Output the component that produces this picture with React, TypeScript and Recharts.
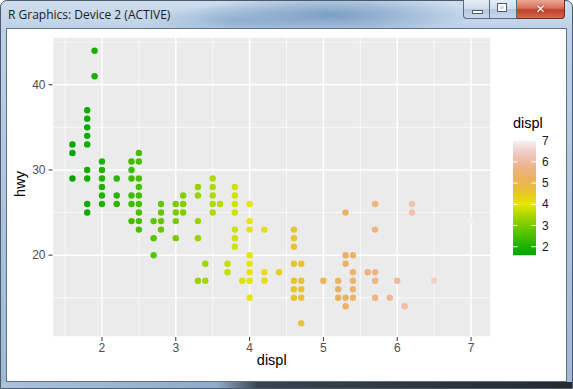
import React from 'react'
import {
  ScatterChart,
  Scatter,
  XAxis,
  YAxis,
  CartesianGrid,
  ReferenceLine
} from 'recharts'

// mpg: displ vs hwy (distinct points)
const displ = [
  1.6, 1.6, 1.6,
  1.8, 1.8, 1.8, 1.8, 1.8, 1.8, 1.8, 1.8, 1.8,
  1.9, 1.9,
  2.0, 2.0, 2.0, 2.0, 2.0, 2.0,
  2.2, 2.2, 2.2,
  2.4, 2.4, 2.4, 2.4, 2.4, 2.4,
  2.5, 2.5, 2.5, 2.5, 2.5, 2.5, 2.5, 2.5, 2.5,
  2.7, 2.7, 2.7,
  2.8, 2.8, 2.8, 2.8,
  3.0, 3.0, 3.0, 3.0,
  3.1, 3.1, 3.1,
  3.3, 3.3, 3.3, 3.3, 3.3,
  3.4, 3.4,
  3.5, 3.5, 3.5, 3.5, 3.5,
  3.6,
  3.7, 3.7,
  3.8, 3.8, 3.8, 3.8, 3.8, 3.8, 3.8,
  3.9,
  4.0, 4.0, 4.0, 4.0, 4.0, 4.0, 4.0, 4.0,
  4.2, 4.2, 4.2,
  4.4,
  4.6, 4.6, 4.6, 4.6, 4.6, 4.6, 4.6,
  4.7, 4.7, 4.7, 4.7, 4.7,
  5.0,
  5.2, 5.2, 5.2,
  5.3, 5.3, 5.3, 5.3, 5.3,
  5.4, 5.4, 5.4, 5.4, 5.4,
  5.6,
  5.7, 5.7, 5.7, 5.7, 5.7,
  5.9,
  6.0,
  6.1,
  6.2, 6.2,
  6.5,
  7.0
]
const hwy = [
  33, 32, 29,
  37, 36, 35, 34, 33, 30, 29, 26, 25,
  44, 41,
  31, 30, 29, 28, 27, 26,
  29, 27, 26,
  31, 30, 29, 27, 26, 24,
  32, 31, 29, 28, 27, 26, 25, 24, 23,
  24, 22, 20,
  26, 25, 24, 23,
  26, 25, 24, 22,
  27, 26, 25,
  28, 27, 24, 22, 17,
  19, 17,
  29, 28, 27, 26, 25,
  26,
  19, 18,
  28, 27, 26, 25, 23, 22, 21,
  17,
  26, 24, 23, 20, 19, 18, 17, 15,
  23, 18, 17,
  18,
  23, 22, 21, 19, 17, 16, 15,
  19, 17, 16, 15, 12,
  17,
  17, 16, 15,
  25, 20, 19, 15, 14,
  20, 18, 17, 16, 15,
  18,
  26, 23, 18, 17, 15,
  15,
  17,
  14,
  26, 25,
  17,
  24
]

const xTicks = [2, 3, 4, 5, 6, 7]
const yTicks = [20, 30, 40]
const xMinor = [1.5, 2.5, 3.5, 4.5, 5.5, 6.5]
const yMinor = [15, 25, 35, 45]
const legendTicks = [2, 3, 4, 5, 6, 7]

// terrain.colors(10)
const palette = [
  '#00A600', '#2DB600', '#63C600', '#A0D600', '#E6E600',
  '#E8C32E', '#EBB25E', '#EDB48E', '#F0C9C0', '#F2F2F2'
]

const displMin = 1.6
const displMax = 7.0

const points = displ.map((d, i) => ({ displ: d, hwy: hwy[i] }))

const hexToRgb = (hex: string) => [
  parseInt(hex.slice(1, 3), 16),
  parseInt(hex.slice(3, 5), 16),
  parseInt(hex.slice(5, 7), 16)
]

const colorFor = (v: number) => {
  const t = Math.min(1, Math.max(0, (v - displMin) / (displMax - displMin))) * (palette.length - 1)
  const i = Math.min(palette.length - 2, Math.floor(t))
  const f = t - i
  const a = hexToRgb(palette[i])
  const b = hexToRgb(palette[i + 1])
  const c = a.map((x, k) => Math.round(x + (b[k] - x) * f))
  return `rgb(${c[0]},${c[1]},${c[2]})`
}

const renderDot = (props: any) => {
  const { cx, cy, payload } = props
  if (cx == null || cy == null) return <g />
  return <circle cx={cx} cy={cy} r={3.2} fill={colorFor(payload.displ)} />
}

const FONT = '"Liberation Sans", Arial, sans-serif'

// colour bar geometry
const barX = 513
const barW = 23
const barTop = 140.7
const barBottom = 255.2
const legendY = (v: number) =>
  barBottom - ((v - displMin) / (displMax - displMin)) * (barBottom - barTop)

const WindowFrame = () => (
  <>
    <div
      style={{
        position: 'absolute',
        left: 0,
        top: 0,
        width: 573,
        height: 389,
        boxSizing: 'border-box',
        border: '1px solid #4a5b6e',
        borderRadius: '7px 7px 0 0',
        background:
          'radial-gradient(ellipse 140px 22px at 330px 14px, rgba(96,138,182,0.75), rgba(96,138,182,0) 100%),' +
          'radial-gradient(ellipse 90px 16px at 230px 20px, rgba(120,158,196,0.5), rgba(120,158,196,0) 100%),' +
          'linear-gradient(180deg, #cfdeee 0px, #bcd1e7 30px, #adc5de 200px, #9fb9d4 389px)'
      }}
    />
    <div
      style={{
        position: 'absolute',
        left: 1,
        top: 382,
        width: 571,
        height: 6,
        background: 'linear-gradient(90deg, #a9c3dd 0%, #8fabc9 38%, #3a434e 45%, #262b32 100%)'
      }}
    />
    <div
      style={{
        position: 'absolute',
        left: 8,
        top: 6,
        fontFamily: '"Open Sans", "Noto Sans", sans-serif',
        fontSize: 12,
        color: '#1c1c1c',
        whiteSpace: 'nowrap'
      }}
    >
      R Graphics: Device 2 (ACTIVE)
    </div>
    {/* caption buttons */}
    <div
      style={{
        position: 'absolute',
        left: 463,
        top: 0,
        width: 27,
        height: 19,
        boxSizing: 'border-box',
        border: '1px solid #566a82',
        borderTop: 'none',
        borderRadius: '0 0 0 4px',
        background: 'linear-gradient(180deg, #e6eef7 0%, #cfdced 48%, #b6c9de 52%, #c9d8e9 100%)'
      }}
    >
      <div
        style={{
          position: 'absolute',
          left: 8,
          top: 10,
          width: 9,
          height: 2,
          background: '#ffffff',
          border: '1px solid #4b5d73'
        }}
      />
    </div>
    <div
      style={{
        position: 'absolute',
        left: 490,
        top: 0,
        width: 27,
        height: 19,
        boxSizing: 'border-box',
        border: '1px solid #566a82',
        borderTop: 'none',
        borderLeft: 'none',
        background: 'linear-gradient(180deg, #e6eef7 0%, #cfdced 48%, #b6c9de 52%, #c9d8e9 100%)'
      }}
    >
      <div
        style={{
          position: 'absolute',
          left: 8,
          top: 4,
          width: 8,
          height: 7,
          boxSizing: 'border-box',
          border: '2px solid #ffffff',
          outline: '1px solid #4b5d73'
        }}
      />
    </div>
    <div
      style={{
        position: 'absolute',
        left: 517,
        top: 0,
        width: 48,
        height: 19,
        boxSizing: 'border-box',
        border: '1px solid #6e2a22',
        borderTop: 'none',
        borderLeft: 'none',
        borderRadius: '0 0 4px 0',
        background: 'linear-gradient(180deg, #eaa897 0%, #d8705c 45%, #c23f2a 55%, #d56a4f 100%)',
        color: '#ffffff',
        fontFamily: '"DejaVu Sans", sans-serif',
        fontWeight: 'bold',
        fontSize: 12,
        textAlign: 'center',
        lineHeight: '18px',
        textShadow: '0 0 2px #5a1a12'
      }}
    >
      ✕
    </div>
    {/* client area */}
    <div
      style={{
        position: 'absolute',
        left: 6,
        top: 28,
        width: 561,
        height: 354,
        boxSizing: 'border-box',
        border: '1px solid #5f6f81',
        background: '#ffffff'
      }}
    />
  </>
)

const ColourBar = () => (
  <svg
    width={573}
    height={389}
    style={{ position: 'absolute', left: 0, top: 0, pointerEvents: 'none' }}
  >
    <defs>
      <linearGradient id="terrain" x1="0" y1="1" x2="0" y2="0">
        {palette.map((c, i) => (
          <stop key={i} offset={i / (palette.length - 1)} stopColor={c} />
        ))}
      </linearGradient>
    </defs>
    <text x={barX} y={128} fontFamily={FONT} fontSize={14.5} fill="#000000">
      displ
    </text>
    <rect x={barX} y={barTop} width={barW} height={barBottom - barTop} fill="url(#terrain)" />
    {legendTicks.map((v) => (
      <g key={v}>
        <line x1={barX} x2={barX + 4.6} y1={legendY(v)} y2={legendY(v)} stroke="#ffffff" strokeWidth={1} />
        <line x1={barX + barW - 4.6} x2={barX + barW} y1={legendY(v)} y2={legendY(v)} stroke="#ffffff" strokeWidth={1} />
        <text
          x={barX + barW + 6}
          y={legendY(v)}
          dominantBaseline="central"
          fontFamily={FONT}
          fontSize={12}
          fill="#1a1a1a"
        >
          {v}
        </text>
      </g>
    ))}
  </svg>
)

const App = () => {
  return (
    <div style={{ position: 'absolute', left: 0, top: 0, width: 573, height: 389, overflow: 'hidden' }}>
      <WindowFrame />
      <div style={{ position: 'absolute', left: 0, top: 0 }}>
        <ScatterChart
          width={573}
          height={389}
          margin={{ top: 37, right: 82, bottom: 21, left: 7.5 }}
        >
          <CartesianGrid fill="#EBEBEB" stroke="#FFFFFF" strokeWidth={1.4} />
          {xMinor.map((v) => (
            <ReferenceLine key={'xm' + v} x={v} stroke="#FFFFFF" strokeWidth={0.7} />
          ))}
          {yMinor.map((v) => (
            <ReferenceLine key={'ym' + v} y={v} stroke="#FFFFFF" strokeWidth={0.7} />
          ))}
          <XAxis
            type="number"
            dataKey="displ"
            domain={[1.33, 7.27]}
            allowDataOverflow
            ticks={xTicks}
            axisLine={false}
            tickLine={{ stroke: '#333333' }}
            tickSize={4}
            tickMargin={2}
            tick={{ fill: '#4D4D4D', fontSize: 12, fontFamily: FONT }}
            height={31}
            label={{
              content: ({ viewBox }: any) => (
                <text
                  x={viewBox.x + viewBox.width / 2}
                  y={viewBox.y + viewBox.height - 3}
                  textAnchor="middle"
                  fontFamily={FONT}
                  fontSize={14.5}
                  fill="#000000"
                >
                  displ
                </text>
              )
            }}
          />
          <YAxis
            type="number"
            dataKey="hwy"
            domain={[10.4, 45.6]}
            allowDataOverflow
            ticks={yTicks}
            axisLine={false}
            tickLine={{ stroke: '#333333' }}
            tickSize={4}
            tickMargin={3}
            tick={{ fill: '#4D4D4D', fontSize: 12, fontFamily: FONT }}
            width={45}
            label={{
              content: ({ viewBox }: any) => {
                const x = viewBox.x + 17
                const y = viewBox.y + viewBox.height / 2 - 3
                return (
                  <text
                    x={x}
                    y={y}
                    transform={`rotate(-90, ${x}, ${y})`}
                    textAnchor="middle"
                    fontFamily={FONT}
                    fontSize={14.5}
                    fill="#000000"
                  >
                    hwy
                  </text>
                )
              }
            }}
          />
          <Scatter data={points} isAnimationActive={false} shape={renderDot} />
        </ScatterChart>
      </div>
      <ColourBar />
    </div>
  )
}

export default App
